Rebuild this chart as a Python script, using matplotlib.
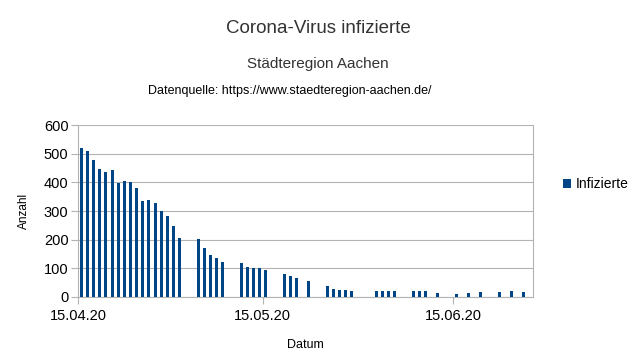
import pandas as pd
import matplotlib
matplotlib.use('Agg')
import matplotlib.pyplot as plt
import matplotlib.dates as mdates

plt.rcParams['font.family'] = ['Liberation Sans', 'DejaVu Sans']

# daily reported infected people (weekends/holidays missing later on)
dates = ['15.04.20', '16.04.20', '17.04.20', '18.04.20', '19.04.20', '20.04.20',
         '21.04.20', '22.04.20', '23.04.20', '24.04.20', '25.04.20', '26.04.20',
         '27.04.20', '28.04.20', '29.04.20', '30.04.20', '01.05.20',
         '04.05.20', '05.05.20', '06.05.20', '07.05.20', '08.05.20',
         '11.05.20', '12.05.20', '13.05.20', '14.05.20', '15.05.20',
         '18.05.20', '19.05.20', '20.05.20', '22.05.20',
         '25.05.20', '26.05.20', '27.05.20', '28.05.20', '29.05.20',
         '02.06.20', '03.06.20', '04.06.20', '05.06.20',
         '08.06.20', '09.06.20', '10.06.20', '12.06.20',
         '15.06.20', '17.06.20', '19.06.20', '22.06.20', '24.06.20', '26.06.20']
infizierte = [520, 509, 479, 447, 436, 444,
              398, 403, 400, 381, 336, 339,
              328, 300, 284, 249, 206,
              203, 170, 148, 135, 122,
              117, 105, 102, 100, 94,
              79, 72, 65, 55,
              40, 29, 24, 23, 22,
              21, 20, 20, 22,
              21, 20, 20, 14,
              10, 15, 16, 17, 20, 17]
tick_dates = ['15.04.20', '15.05.20', '15.06.20']

x = pd.to_datetime(dates, format='%d.%m.%y') + pd.Timedelta(hours=12)
ticks = pd.to_datetime(tick_dates, format='%d.%m.%y')

fig = plt.figure(figsize=(6.4, 3.61), dpi=100)
ax = fig.add_axes([0.1223, 0.1773, 0.7105, 0.4764])

ax.bar(x, infizierte, width=0.5, color='#004586', label='Infizierte', zorder=3)

ax.set_xlim(pd.Timestamp('2020-04-15'), pd.Timestamp('2020-06-28'))
ax.set_ylim(0, 600)
ax.set_yticks(range(0, 601, 100))
ax.set_xticks(ticks)
ax.xaxis.set_major_formatter(mdates.DateFormatter('%d.%m.%y'))

ax.grid(axis='y', color='#b3b3b3', linewidth=0.8, zorder=0)
for s in ax.spines.values():
    s.set_color('#b3b3b3')
ax.spines['top'].set_visible(False)
ax.tick_params(axis='both', colors='#b3b3b3', labelcolor='black', labelsize=10.5, length=5)
ax.tick_params(axis='y', pad=2)

ax.set_xlabel('Datum', fontsize=9, labelpad=12)
ax.set_ylabel('Anzahl', fontsize=8.5, labelpad=10)

fig.text(0.497, 0.92, 'Corona-Virus infizierte', ha='center', va='center', fontsize=13.5, color='#333333')
fig.text(0.497, 0.823, 'Städteregion Aachen', ha='center', va='center', fontsize=11, color='#333333')
fig.text(0.453, 0.748, 'Datenquelle: https://www.staedteregion-aachen.de/', ha='center', va='center',
         fontsize=9, color='black')

fig.legend(loc='center left', bbox_to_anchor=(0.869, 0.49), frameon=False, fontsize=10,
           handlelength=0.6, handleheight=0.6, handletextpad=0.3, borderpad=0)

fig.savefig('out.png', dpi=100)
